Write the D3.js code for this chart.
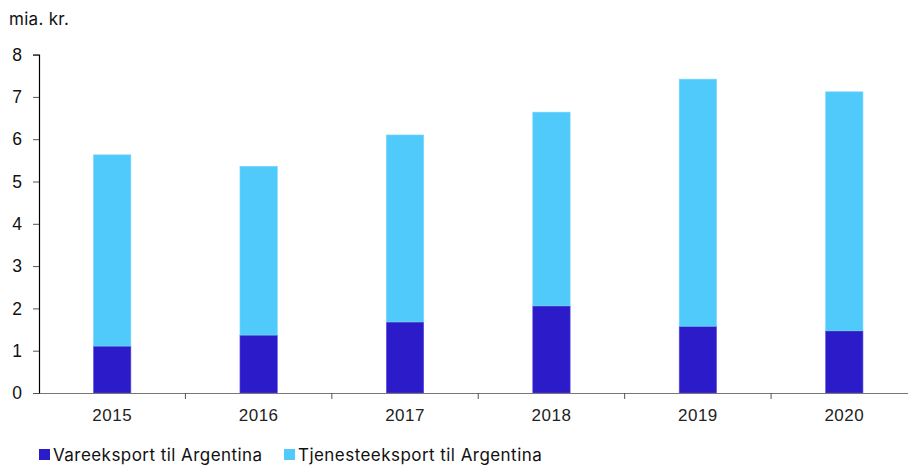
<!DOCTYPE html>
<html><head><meta charset="utf-8">
<script src="https://cdn.jsdelivr.net/npm/d3@7"></script>
<style>body{margin:0;background:#fff}svg{display:block;font-family:Inter,Roboto,"Liberation Sans",sans-serif}</style>
</head><body><svg id="c" width="908" height="465"></svg>
<script>
const years = ["2015","2016","2017","2018","2019","2020"];
const goods = [1.11, 1.37, 1.68, 2.06, 1.58, 1.47];
const services = [4.52, 3.99, 4.42, 4.58, 5.84, 5.65];
const seriesNames = ["Vareeksport til Argentina", "Tjenesteeksport til Argentina"];
const colors = ["#2b1bc8", "#50cafb"];
const yTicks = [0,1,2,3,4,5,6,7,8];

const svg = d3.select("#c");
const x = d3.scaleBand().domain(years).range([39, 917.5]).paddingInner(0).paddingOuter(0);
const y = d3.scaleLinear().domain([0, 8]).range([393, 54.6]);
const bw = x.bandwidth() * 0.255;

const rows = years.map((yr, i) => ({year: yr, g: goods[i], s: services[i]}));
const stack = d3.stack().keys(["g","s"])(rows);

svg.append("g").selectAll("g").data(stack).join("g")
  .attr("fill", (d, i) => colors[i])
  .attr("stroke", (d, i) => i === 0 ? "#5a4fe0" : "#7ad6fc")
  .attr("stroke-width", 0.6)
  .selectAll("rect").data(d => d).join("rect")
  .attr("x", d => x(d.data.year) + x.bandwidth()/2 - bw/2)
  .attr("width", bw)
  .attr("y", d => y(d[1]))
  .attr("height", d => y(d[0]) - y(d[1]));

// y axis
const ya = svg.append("g").attr("transform", "translate(39,0)")
  .call(d3.axisLeft(y).tickValues(yTicks).tickSize(6).tickPadding(11).tickFormat(d3.format("d")));
ya.select(".domain").attr("stroke", "#000").attr("stroke-width", 1.2);
ya.selectAll(".tick line").attr("stroke", "#555");
ya.selectAll("text").attr("font-size", 17.5).attr("fill", "#111").attr("font-family", "inherit");

// x axis
const xa = svg.append("g").attr("transform", "translate(0,393)")
  .call(d3.axisBottom(x).tickSize(0).tickPadding(16));
xa.select(".domain").attr("stroke", "#777").attr("stroke-width", 1.2);
xa.selectAll("text").attr("font-size", 17).attr("letter-spacing", 0.5).attr("fill", "#222").attr("font-family", "inherit");
// category boundary ticks
svg.append("g").selectAll("line").data(years.slice(1)).join("line")
  .attr("x1", d => x(d)).attr("x2", d => x(d))
  .attr("y1", 393).attr("y2", 399).attr("stroke", "#555");

// unit label
svg.append("text").attr("x", 9).attr("y", 25).attr("font-size", 17).attr("letter-spacing", 0.3).attr("fill", "#111").text("mia. kr.");

// legend
const legX = [39, 284];
const lg = svg.append("g").selectAll("g").data(seriesNames).join("g")
  .attr("transform", (d, i) => `translate(${legX[i]},449)`);
lg.append("rect").attr("width", 11).attr("height", 11).attr("fill", (d, i) => colors[i]);
lg.append("text").attr("x", 14).attr("y", 11.8).attr("font-size", 17).attr("letter-spacing", 0.45).attr("fill", "#111").text(d => d);
</script></body></html>
